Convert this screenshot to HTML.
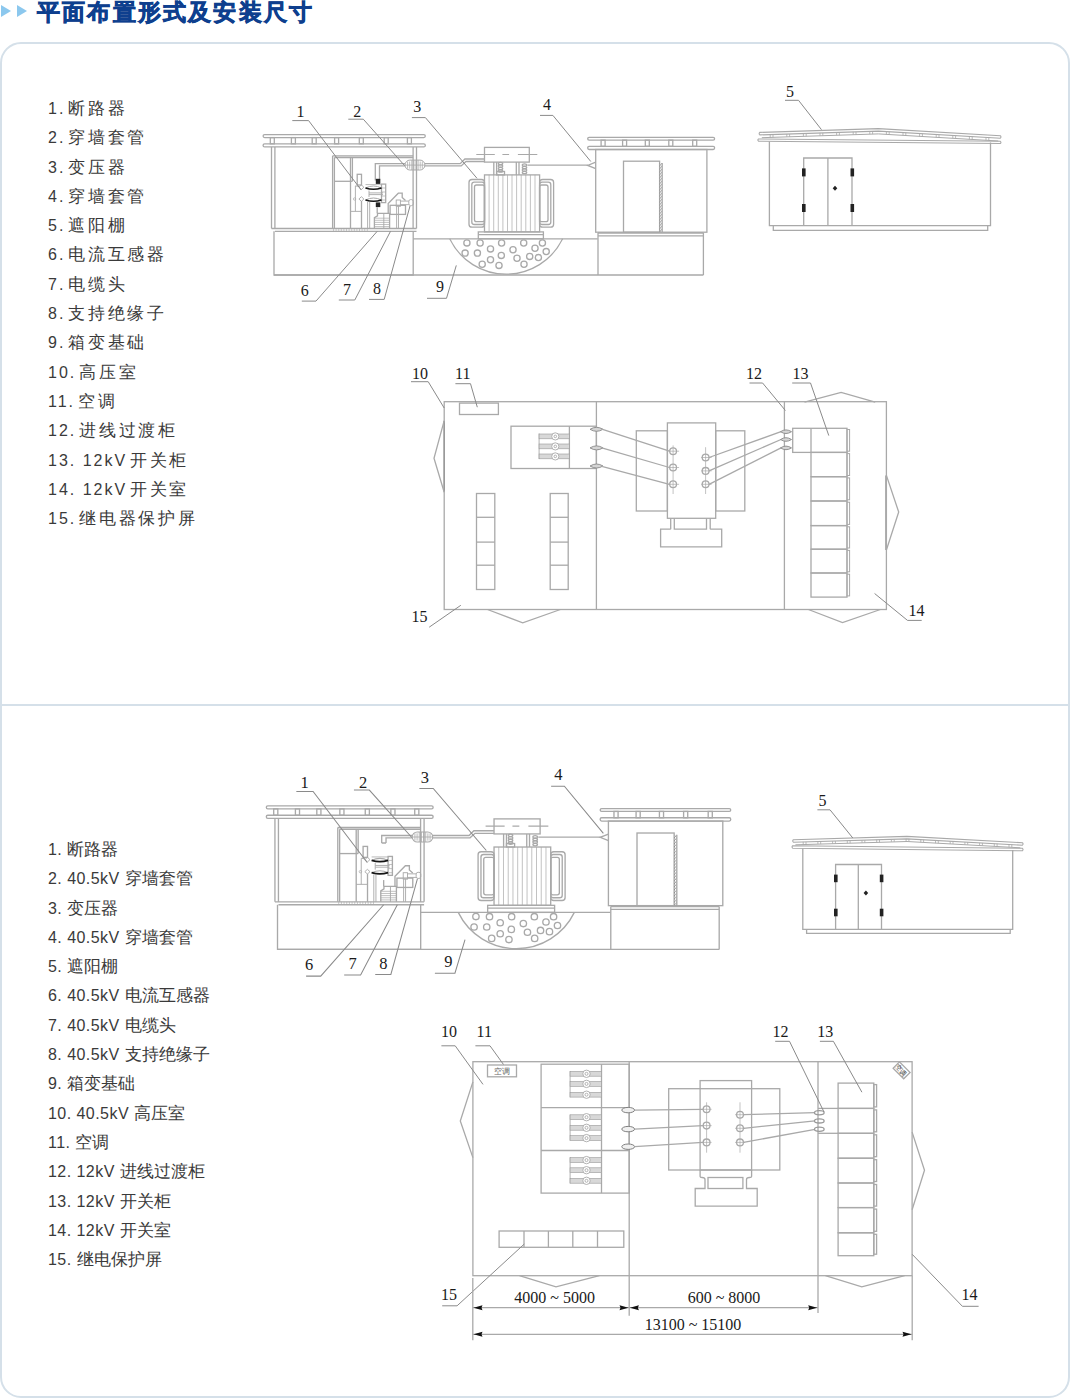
<!DOCTYPE html>
<html><head><meta charset="utf-8">
<style>
html,body{margin:0;padding:0;background:#fff;}
body{width:1070px;height:1398px;position:relative;overflow:hidden;font-family:"Liberation Sans",sans-serif;}
.tri{position:absolute;top:5px;width:0;height:0;border-top:6px solid transparent;border-bottom:6px solid transparent;border-left:10px solid #8cc8ee;}
.title{position:absolute;left:37px;top:-3px;font-size:23px;font-weight:900;color:#0e3f8e;letter-spacing:2.2px;white-space:nowrap;line-height:30px;-webkit-text-stroke:0.7px #0e3f8e;}
.panel{position:absolute;left:0;top:41.5px;width:1066px;height:1352.5px;border:2px solid #d5e0e9;border-radius:21px;}
.div{position:absolute;left:0;top:704px;width:1070px;height:2px;background:#d5e0e9;}
.list{position:absolute;left:48px;font-size:16px;color:#3a3a3a;white-space:nowrap;}
.list div{height:29.3px;line-height:29.3px;}
.l1{top:94px;letter-spacing:2px;}
.l1 .c{letter-spacing:2.75px;margin-left:2.8px;font-size:16.5px;}
.l2{top:835px;letter-spacing:0.45px;}
.l2 .c{font-size:17px;letter-spacing:0;}
svg{position:absolute;left:0;top:0;}
svg text{fill:#1a1a1a;stroke:none;}
</style></head><body>
<div class="tri" style="left:1px"></div>
<div class="tri" style="left:17px"></div>
<div class="title">平面布置形式及安装尺寸</div>
<div class="panel"></div>
<div class="div"></div>
<div class="list l1">
<div>1.<span class="c">断路器</span></div><div>2.<span class="c">穿墙套管</span></div><div>3.<span class="c">变压器</span></div><div>4.<span class="c">穿墙套管</span></div><div>5.<span class="c">遮阳棚</span></div><div>6.<span class="c">电流互感器</span></div><div>7.<span class="c">电缆头</span></div><div>8.<span class="c">支持绝缘子</span></div><div>9.<span class="c">箱变基础</span></div><div>10.<span class="c">高压室</span></div><div>11.<span class="c">空调</span></div><div>12.<span class="c">进线过渡柜</span></div><div>13. 12kV<span class="c">开关柜</span></div><div>14. 12kV<span class="c">开关室</span></div><div>15.<span class="c">继电器保护屏</span></div>
</div>
<div class="list l2">
<div>1. <span class="c">断路器</span></div><div>2. 40.5kV <span class="c">穿墙套管</span></div><div>3. <span class="c">变压器</span></div><div>4. 40.5kV <span class="c">穿墙套管</span></div><div>5. <span class="c">遮阳棚</span></div><div>6. 40.5kV <span class="c">电流互感器</span></div><div>7. 40.5kV <span class="c">电缆头</span></div><div>8. 40.5kV <span class="c">支持绝缘子</span></div><div>9. <span class="c">箱变基础</span></div><div>10. 40.5kV <span class="c">高压室</span></div><div>11. <span class="c">空调</span></div><div>12. 12kV <span class="c">进线过渡柜</span></div><div>13. 12kV <span class="c">开关柜</span></div><div>14. 12kV <span class="c">开关室</span></div><div>15. <span class="c">继电保护屏</span></div>
</div>
<svg width="1070" height="1398" viewBox="0 0 1070 1398" fill="none" stroke="#a9a9a9" stroke-width="1.3" font-family="Liberation Serif,serif">
<defs><pattern id="hatch" width="2.6" height="3" patternUnits="userSpaceOnUse"><path d="M0 3L2.6 0" stroke="#666" stroke-width="0.6"/></pattern></defs>
<g class="txt"></g>
<rect x="263.1" y="134.6" width="162.2" height="3.0" rx="1.5"/>
<rect x="263.1" y="143.8" width="162.2" height="3.1" rx="1.5"/>
<rect x="270.3" y="137.6" width="4.0" height="6.2"/>
<rect x="291.4" y="137.6" width="4.0" height="6.2"/>
<rect x="312.2" y="137.6" width="4.0" height="6.2"/>
<rect x="334.6" y="137.6" width="4.0" height="6.2"/>
<rect x="359.3" y="137.6" width="4.0" height="6.2"/>
<rect x="384.2" y="137.6" width="4.0" height="6.2"/>
<rect x="407.4" y="137.6" width="4.0" height="6.2"/>
<line x1="271.5" y1="146.9" x2="271.5" y2="228.5"/>
<line x1="274.9" y1="146.9" x2="274.9" y2="228.5"/>
<line x1="413.1" y1="146.9" x2="413.1" y2="228.5"/>
<line x1="416.5" y1="146.9" x2="416.5" y2="228.5"/>
<line x1="271.5" y1="228.5" x2="416.5" y2="228.5"/>
<line x1="274.9" y1="231.3" x2="416.5" y2="231.3"/>
<path d="M274 231.3V275H413.2V231.3"/>
<line x1="332.6" y1="155.8" x2="332.6" y2="228.5"/>
<line x1="334.4" y1="157.5" x2="334.4" y2="228.5"/>
<line x1="332.6" y1="155.8" x2="413.1" y2="155.8"/>
<line x1="334.4" y1="157.5" x2="413.1" y2="157.5"/>
<line x1="350.5" y1="157.5" x2="350.5" y2="228.5"/>
<line x1="352.4" y1="157.5" x2="352.4" y2="181.3"/>
<line x1="334.4" y1="181.3" x2="352.4" y2="181.3"/>
<line x1="333.5" y1="228.5" x2="333.5" y2="231.3" stroke-width="0.6"/>
<line x1="336.1" y1="228.5" x2="336.1" y2="231.3" stroke-width="0.6"/>
<line x1="338.7" y1="228.5" x2="338.7" y2="231.3" stroke-width="0.6"/>
<line x1="341.3" y1="228.5" x2="341.3" y2="231.3" stroke-width="0.6"/>
<line x1="343.9" y1="228.5" x2="343.9" y2="231.3" stroke-width="0.6"/>
<line x1="346.5" y1="228.5" x2="346.5" y2="231.3" stroke-width="0.6"/>
<line x1="349.1" y1="228.5" x2="349.1" y2="231.3" stroke-width="0.6"/>
<line x1="351.7" y1="228.5" x2="351.7" y2="231.3" stroke-width="0.6"/>
<line x1="354.3" y1="228.5" x2="354.3" y2="231.3" stroke-width="0.6"/>
<line x1="356.9" y1="228.5" x2="356.9" y2="231.3" stroke-width="0.6"/>
<line x1="359.5" y1="228.5" x2="359.5" y2="231.3" stroke-width="0.6"/>
<line x1="362.1" y1="228.5" x2="362.1" y2="231.3" stroke-width="0.6"/>
<line x1="364.7" y1="228.5" x2="364.7" y2="231.3" stroke-width="0.6"/>
<line x1="367.3" y1="228.5" x2="367.3" y2="231.3" stroke-width="0.6"/>
<path d="M375.3 180.5V163.6H405M379.5 180.5V165.9H405"/>
<rect x="375.8" y="178.8" width="4.5" height="5.1" fill="#222" stroke="none"/>
<rect x="375.8" y="202.4" width="4.5" height="4.7" fill="#222" stroke="none"/>
<rect x="405.0" y="160.1" width="19.9" height="9.9" rx="4.9" stroke-width="1"/>
<line x1="407.6" y1="161.5" x2="407.6" y2="168.7" stroke-width="0.8"/>
<line x1="409.7" y1="161.5" x2="409.7" y2="168.7" stroke-width="0.8"/>
<line x1="411.8" y1="160.2" x2="411.8" y2="170.0" stroke-width="0.8"/>
<line x1="413.9" y1="160.2" x2="413.9" y2="170.0" stroke-width="0.8"/>
<line x1="416.0" y1="160.2" x2="416.0" y2="170.0" stroke-width="0.8"/>
<line x1="418.1" y1="160.2" x2="418.1" y2="170.0" stroke-width="0.8"/>
<line x1="420.2" y1="161.5" x2="420.2" y2="168.7" stroke-width="0.8"/>
<line x1="422.3" y1="161.5" x2="422.3" y2="168.7" stroke-width="0.8"/>
<line x1="405.0" y1="165.1" x2="424.9" y2="165.1" stroke-width="0.8"/>
<path d="M424.9 163.6H460.2L464.9 159H484.5M424.9 165.9H461.2L466 161.5H484.5"/>
<rect x="381.5" y="184.1" width="4.2" height="18.5"/>
<line x1="381.5" y1="188.0" x2="385.7" y2="188.0" stroke-width="0.7"/>
<line x1="381.5" y1="192.0" x2="385.7" y2="192.0" stroke-width="0.7"/>
<line x1="381.5" y1="196.0" x2="385.7" y2="196.0" stroke-width="0.7"/>
<line x1="381.5" y1="200.0" x2="385.7" y2="200.0" stroke-width="0.7"/>
<path d="M365.5 188Q373.5 184 381.5 188M365.5 200Q373.5 196 381.5 200" stroke-width="1"/>
<path d="M365.5 188Q373.5 190.5 381.5 188M365.5 200Q373.5 202.5 381.5 200" stroke="#151515" stroke-width="1.7"/>
<line x1="369.0" y1="192.9" x2="383.0" y2="192.9" stroke-width="0.9"/>
<line x1="369.0" y1="194.6" x2="383.0" y2="194.6" stroke-width="0.9"/>
<line x1="369.0" y1="190.5" x2="369.0" y2="197.0" stroke-width="0.9"/>
<line x1="365.5" y1="184.6" x2="381.5" y2="184.6" stroke-width="0.8"/>
<path d="M358.9 187.2L361.4 184.9L363.9 187.2L361.4 189.5Z" stroke-width="0.9"/>
<path d="M358.9 199L361.4 196.7L363.9 199L361.4 201.3Z" stroke-width="0.9"/>
<rect x="357.2" y="174.3" width="4.3" height="10.7"/>
<line x1="361.5" y1="201.0" x2="361.5" y2="228.5"/>
<path d="M358.9 186.5L355.4 185.9V211.4" stroke-width="0.9"/>
<line x1="350.5" y1="211.4" x2="361.5" y2="211.4" stroke-width="0.9"/>
<circle cx="354.6" cy="199.0" r="1.2" stroke-width="0.7"/>
<line x1="367.6" y1="201.7" x2="367.6" y2="228.5" stroke-width="0.9"/>
<line x1="369.7" y1="201.7" x2="369.7" y2="228.5" stroke-width="0.9"/>
<path d="M374.4 228.5V217.7L377.5 215.8V213.3H389.6V228.5"/>
<line x1="374.4" y1="218.2" x2="389.6" y2="218.2" stroke-width="0.7"/>
<line x1="374.4" y1="220.3" x2="389.6" y2="220.3" stroke-width="0.7"/>
<line x1="374.4" y1="222.4" x2="389.6" y2="222.4" stroke-width="0.7"/>
<line x1="374.4" y1="224.5" x2="389.6" y2="224.5" stroke-width="0.7"/>
<line x1="374.4" y1="226.6" x2="389.6" y2="226.6" stroke-width="0.7"/>
<line x1="383.8" y1="213.3" x2="383.8" y2="228.5" stroke-width="0.9"/>
<line x1="377.2" y1="207.2" x2="377.2" y2="213.3"/>
<path d="M388.2 213.3V203.5L398.3 193.2H402.2V197.4L405.5 200.4"/>
<rect x="390.1" y="205.3" width="15.4" height="9.1"/>
<rect x="396.2" y="200.0" width="4.2" height="6.3" stroke-width="0.9"/>
<line x1="400.4" y1="201.1" x2="408.8" y2="201.1" stroke-width="0.9"/>
<line x1="400.4" y1="204.6" x2="408.8" y2="204.6" stroke-width="0.9"/>
<rect x="408.8" y="199.6" width="4.5" height="6.0" rx="1.8" stroke-width="0.9"/>
<line x1="396.6" y1="206.3" x2="396.6" y2="228.5" stroke-width="0.9"/>
<line x1="398.5" y1="206.3" x2="398.5" y2="228.5" stroke-width="0.9"/>
<rect x="484.5" y="147.4" width="44.8" height="14.7"/>
<path d="M476.3 154.5H494.8M502.4 154.5H509.1M517.9 154.5H537.3" stroke-width="1.1"/>
<line x1="493.8" y1="162.1" x2="493.8" y2="174.9"/>
<line x1="496.6" y1="162.1" x2="496.6" y2="174.9"/>
<line x1="516.3" y1="162.1" x2="516.3" y2="174.9"/>
<line x1="519.0" y1="162.1" x2="519.0" y2="174.9"/>
<ellipse cx="500.5" cy="163.5" rx="2.2" ry="1.2"/>
<ellipse cx="500.5" cy="166.0" rx="2.2" ry="1.2"/>
<ellipse cx="500.5" cy="168.5" rx="2.2" ry="1.2"/>
<ellipse cx="500.5" cy="171.0" rx="2.2" ry="1.2"/>
<ellipse cx="524.5" cy="165.0" rx="2.2" ry="1.2"/>
<ellipse cx="524.5" cy="167.5" rx="2.2" ry="1.2"/>
<ellipse cx="524.5" cy="170.0" rx="2.2" ry="1.2"/>
<ellipse cx="524.5" cy="172.5" rx="2.2" ry="1.2"/>
<rect x="496.6" y="171.5" width="7.9" height="3.4"/>
<rect x="484.5" y="174.9" width="55.1" height="57.0"/>
<line x1="489.1" y1="174.9" x2="489.1" y2="231.9" stroke-width="0.7"/>
<line x1="493.7" y1="174.9" x2="493.7" y2="231.9" stroke-width="0.7"/>
<line x1="498.3" y1="174.9" x2="498.3" y2="231.9" stroke-width="0.7"/>
<line x1="502.9" y1="174.9" x2="502.9" y2="231.9" stroke-width="0.7"/>
<line x1="507.5" y1="174.9" x2="507.5" y2="231.9" stroke-width="0.7"/>
<line x1="512.0" y1="174.9" x2="512.0" y2="231.9" stroke-width="0.7"/>
<line x1="516.6" y1="174.9" x2="516.6" y2="231.9" stroke-width="0.7"/>
<line x1="521.2" y1="174.9" x2="521.2" y2="231.9" stroke-width="0.7"/>
<line x1="525.8" y1="174.9" x2="525.8" y2="231.9" stroke-width="0.7"/>
<line x1="530.4" y1="174.9" x2="530.4" y2="231.9" stroke-width="0.7"/>
<line x1="535.0" y1="174.9" x2="535.0" y2="231.9" stroke-width="0.7"/>
<rect x="469.0" y="179.5" width="15.5" height="47.7" rx="3"/>
<rect x="471.8" y="182.2" width="12.7" height="42.3" rx="2.5"/>
<rect x="474.5" y="185.0" width="10.0" height="36.7" rx="2"/>
<rect x="539.6" y="179.5" width="14.0" height="47.7" rx="3"/>
<rect x="539.6" y="182.2" width="11.2" height="42.3" rx="2.5"/>
<rect x="539.6" y="185.0" width="8.4" height="36.7" rx="2"/>
<rect x="478.3" y="231.9" width="65.1" height="6.9"/>
<line x1="478.3" y1="234.7" x2="543.4" y2="234.7"/>
<line x1="527.5" y1="165.2" x2="588.0" y2="165.2"/>
<path d="M595.7 162.2L587.7 165.4L595.7 168.7"/>
<line x1="413.2" y1="238.8" x2="597.7" y2="238.8"/>
<line x1="274.0" y1="275.0" x2="703.4" y2="275.0"/>
<path d="M449.7 238.8A62.7 62.7 0 0 0 562.6 238.8"/>
<circle cx="466.9" cy="242.9" r="3.1"/>
<circle cx="480.1" cy="243.0" r="3.1"/>
<circle cx="501.6" cy="243.0" r="3.1"/>
<circle cx="523.7" cy="243.0" r="3.1"/>
<circle cx="542.4" cy="243.0" r="3.1"/>
<circle cx="490.5" cy="248.9" r="3.1"/>
<circle cx="513.0" cy="249.7" r="3.1"/>
<circle cx="535.0" cy="248.2" r="3.1"/>
<circle cx="465.1" cy="253.1" r="3.1"/>
<circle cx="477.4" cy="253.1" r="3.1"/>
<circle cx="501.3" cy="255.4" r="3.1"/>
<circle cx="546.2" cy="251.6" r="3.1"/>
<circle cx="517.0" cy="258.2" r="3.1"/>
<circle cx="529.7" cy="256.4" r="3.1"/>
<circle cx="538.4" cy="257.6" r="3.1"/>
<circle cx="490.5" cy="259.7" r="3.1"/>
<circle cx="482.2" cy="264.2" r="3.1"/>
<circle cx="499.0" cy="265.4" r="3.1"/>
<circle cx="524.0" cy="264.2" r="3.1"/>
<rect x="587.7" y="137.3" width="126.9" height="2.8" rx="1.4"/>
<rect x="587.7" y="146.3" width="126.9" height="3.2" rx="1.4"/>
<rect x="601.1" y="140.1" width="4.0" height="6.2"/>
<rect x="622.6" y="140.1" width="4.0" height="6.2"/>
<rect x="645.3" y="140.1" width="4.0" height="6.2"/>
<rect x="668.8" y="140.1" width="4.0" height="6.2"/>
<rect x="692.7" y="140.1" width="4.0" height="6.2"/>
<rect x="595.7" y="149.5" width="111.2" height="82.7"/>
<rect x="623.5" y="161.2" width="36.1" height="71.0"/>
<rect x="659.6" y="163" width="2.6" height="69" fill="url(#hatch)" stroke="none"/>
<line x1="662.2" y1="163.0" x2="662.2" y2="232.0"/>
<line x1="598.0" y1="233.0" x2="703.4" y2="233.0"/>
<line x1="598.0" y1="235.8" x2="703.4" y2="235.8"/>
<line x1="598.0" y1="233.0" x2="598.0" y2="275.0"/>
<line x1="703.4" y1="233.0" x2="703.4" y2="275.0"/>
<text x="300.4" y="116.9" font-size="16" text-anchor="middle">1</text>
<path d="M292.3 120.6H308.6L361.2 190.0" stroke="#8a8a8a" stroke-width="1"/>
<text x="357.2" y="117.1" font-size="16" text-anchor="middle">2</text>
<path d="M348.3 119.2H363.3L404.6 165.6" stroke="#8a8a8a" stroke-width="1"/>
<text x="417.3" y="112.0" font-size="16" text-anchor="middle">3</text>
<path d="M411.9 117.6H425.4L477.0 178.3" stroke="#8a8a8a" stroke-width="1"/>
<text x="547.0" y="109.8" font-size="16" text-anchor="middle">4</text>
<path d="M540.0 115.4H552.9L590.8 161.5" stroke="#8a8a8a" stroke-width="1"/>
<text x="304.8" y="295.5" font-size="16" text-anchor="middle">6</text>
<path d="M301.8 301.1H316.0L377.2 231.3" stroke="#8a8a8a" stroke-width="1"/>
<text x="347.0" y="294.5" font-size="16" text-anchor="middle">7</text>
<path d="M338.8 300.0H354.8L390.5 231.3" stroke="#8a8a8a" stroke-width="1"/>
<text x="376.9" y="294.0" font-size="16" text-anchor="middle">8</text>
<path d="M369.0 299.4H384.2L410.0 206.0" stroke="#8a8a8a" stroke-width="1"/>
<text x="440.0" y="292.0" font-size="16" text-anchor="middle">9</text>
<path d="M427.0 298.3H446.5L456.3 265.4" stroke="#8a8a8a" stroke-width="1"/>
<path d="M759.8 132.4L878.4 128.6L1000.3 135.7Q1001.5999999999999 136.9 1000.3 138.2L878.4 131.1L759.8 134.9Q758.5 133.7 759.8 132.4Z" stroke-width="1.1"/>
<path d="M761.8 137.7L878.4 133.9L998.3 141.0" stroke-width="1"/>
<line x1="770.2" y1="134.5" x2="770.2" y2="137.3" stroke-width="0.8"/>
<line x1="773.0" y1="134.5" x2="773.0" y2="137.3" stroke-width="0.8"/>
<line x1="786.8" y1="134.0" x2="786.8" y2="136.8" stroke-width="0.8"/>
<line x1="789.6" y1="134.0" x2="789.6" y2="136.8" stroke-width="0.8"/>
<line x1="803.4" y1="133.5" x2="803.4" y2="136.3" stroke-width="0.8"/>
<line x1="806.2" y1="133.5" x2="806.2" y2="136.3" stroke-width="0.8"/>
<line x1="820.0" y1="132.9" x2="820.0" y2="135.7" stroke-width="0.8"/>
<line x1="822.8" y1="132.9" x2="822.8" y2="135.7" stroke-width="0.8"/>
<line x1="836.6" y1="132.4" x2="836.6" y2="135.2" stroke-width="0.8"/>
<line x1="839.4" y1="132.4" x2="839.4" y2="135.2" stroke-width="0.8"/>
<line x1="853.2" y1="131.9" x2="853.2" y2="134.7" stroke-width="0.8"/>
<line x1="856.0" y1="131.9" x2="856.0" y2="134.7" stroke-width="0.8"/>
<line x1="869.8" y1="131.3" x2="869.8" y2="134.1" stroke-width="0.8"/>
<line x1="872.6" y1="131.3" x2="872.6" y2="134.1" stroke-width="0.8"/>
<line x1="886.4" y1="131.6" x2="886.4" y2="134.4" stroke-width="0.8"/>
<line x1="889.2" y1="131.6" x2="889.2" y2="134.4" stroke-width="0.8"/>
<line x1="903.0" y1="132.6" x2="903.0" y2="135.4" stroke-width="0.8"/>
<line x1="905.8" y1="132.6" x2="905.8" y2="135.4" stroke-width="0.8"/>
<line x1="919.6" y1="133.6" x2="919.6" y2="136.4" stroke-width="0.8"/>
<line x1="922.4" y1="133.6" x2="922.4" y2="136.4" stroke-width="0.8"/>
<line x1="936.2" y1="134.5" x2="936.2" y2="137.3" stroke-width="0.8"/>
<line x1="939.0" y1="134.5" x2="939.0" y2="137.3" stroke-width="0.8"/>
<line x1="952.8" y1="135.5" x2="952.8" y2="138.3" stroke-width="0.8"/>
<line x1="955.6" y1="135.5" x2="955.6" y2="138.3" stroke-width="0.8"/>
<line x1="969.4" y1="136.5" x2="969.4" y2="139.3" stroke-width="0.8"/>
<line x1="972.2" y1="136.5" x2="972.2" y2="139.3" stroke-width="0.8"/>
<line x1="986.0" y1="137.4" x2="986.0" y2="140.2" stroke-width="0.8"/>
<line x1="988.8" y1="137.4" x2="988.8" y2="140.2" stroke-width="0.8"/>
<path d="M758.5 139L1000.3 141.3Q1001.5999999999999 142.4 1000.3 143.5L758.5 141.2Q757.2 140.1 758.5 139Z" stroke-width="1.1"/>
<path d="M769.4 141.5V225.6H990.5V142.5"/>
<path d="M773.3 225.6V230.4H987.7V225.6"/>
<path d="M803.7 225.6V158H852V225.6M827.9 158V225.6"/>
<rect x="802.0" y="168.4" width="3.6" height="8.0" fill="#222" stroke="none"/>
<rect x="802.0" y="204.0" width="3.6" height="8.0" fill="#222" stroke="none"/>
<rect x="850.5" y="168.4" width="3.6" height="8.0" fill="#222" stroke="none"/>
<rect x="850.5" y="204.0" width="3.6" height="8.0" fill="#222" stroke="none"/>
<path d="M835 185.8L837.3 188.3L835 190.8L832.7 188.3Z" fill="#222" stroke="none"/>
<text x="790.0" y="96.5" font-size="16" text-anchor="middle">5</text>
<path d="M785.0 100.3H798.5L821.5 129.7" stroke="#8a8a8a" stroke-width="1"/>
<rect x="444.2" y="401.7" width="442.2" height="207.8"/>
<line x1="596.4" y1="401.7" x2="596.4" y2="609.5"/>
<line x1="784.4" y1="401.7" x2="784.4" y2="609.5"/>
<line x1="444.2" y1="421.0" x2="444.2" y2="491.4" stroke-width="1.5" stroke="#999"/>
<path d="M444.2 420.6L434 458.3L444.2 492.3"/>
<path d="M487.5 609.5L522.7 622.8L560.4 609.5"/>
<path d="M804.5 402.1L841.1 392.4L875.2 402.1"/>
<path d="M886.4 475.4L898.7 512L886.4 550"/>
<line x1="885.9" y1="475.4" x2="885.9" y2="550.0" stroke-width="1.6"/>
<path d="M808.4 609.5L842.5 622.5L880.4 609.5"/>
<rect x="459.5" y="403.1" width="38.9" height="11.4"/>
<rect x="476.5" y="493.5" width="18.3" height="96.0"/>
<line x1="476.5" y1="517.3" x2="494.8" y2="517.3"/>
<line x1="476.5" y1="542.1" x2="494.8" y2="542.1"/>
<line x1="476.5" y1="565.2" x2="494.8" y2="565.2"/>
<rect x="550.2" y="493.5" width="18.0" height="96.0"/>
<line x1="550.2" y1="517.3" x2="568.2" y2="517.3"/>
<line x1="550.2" y1="542.1" x2="568.2" y2="542.1"/>
<line x1="550.2" y1="565.2" x2="568.2" y2="565.2"/>
<rect x="511.0" y="426.2" width="85.4" height="42.3"/>
<line x1="569.4" y1="426.2" x2="569.4" y2="468.5"/>
<line x1="539.1" y1="433.5" x2="539.1" y2="459.0" stroke-width="0.9"/>
<rect x="539.1" y="434.0" width="30.3" height="4.8" fill="#d8d8d8" stroke="#999" stroke-width="0.6"/>
<circle cx="555.3" cy="436.4" r="3.6" fill="#fff" stroke-width="0.9"/>
<circle cx="555.3" cy="436.4" r="1.3" stroke-width="0.9"/>
<rect x="539.1" y="444.0" width="30.3" height="4.8" fill="#d8d8d8" stroke="#999" stroke-width="0.6"/>
<circle cx="555.3" cy="446.4" r="3.6" fill="#fff" stroke-width="0.9"/>
<circle cx="555.3" cy="446.4" r="1.3" stroke-width="0.9"/>
<rect x="539.1" y="454.0" width="30.3" height="4.8" fill="#d8d8d8" stroke="#999" stroke-width="0.6"/>
<circle cx="555.3" cy="456.4" r="3.6" fill="#fff" stroke-width="0.9"/>
<circle cx="555.3" cy="456.4" r="1.3" stroke-width="0.9"/>
<path d="M590 429.3Q596.5 425.3 603 429.3Q596.5 433.3 590 429.3Z" fill="#d5d5d5" stroke="#888" stroke-width="0.9"/>
<path d="M590 447.9Q596.5 443.9 603 447.9Q596.5 451.9 590 447.9Z" fill="#d5d5d5" stroke="#888" stroke-width="0.9"/>
<path d="M590 466Q596.5 462.0 603 466Q596.5 470.0 590 466Z" fill="#d5d5d5" stroke="#888" stroke-width="0.9"/>
<rect x="636.3" y="430.8" width="31.1" height="80.2"/>
<rect x="715.7" y="430.8" width="29.1" height="80.2"/>
<rect x="667.4" y="422.9" width="48.3" height="95.4"/>
<path d="M670.7 518.3V529.2M674.3 518.3V529.2H706.5V518.3M710.2 518.3V529.2"/>
<path d="M670.7 529.2H660.6V546.8H721.7V529.2H710.2"/>
<line x1="673.1" y1="445.4" x2="673.1" y2="494.0" stroke-width="0.7"/>
<circle cx="673.1" cy="451.2" r="3.4"/>
<line x1="668.6" y1="451.2" x2="679.1" y2="451.2" stroke-width="0.7"/>
<circle cx="673.1" cy="467.5" r="3.4"/>
<line x1="668.6" y1="467.5" x2="679.1" y2="467.5" stroke-width="0.7"/>
<circle cx="673.1" cy="484.3" r="3.4"/>
<line x1="668.6" y1="484.3" x2="679.1" y2="484.3" stroke-width="0.7"/>
<line x1="705.6" y1="447.2" x2="705.6" y2="494.0" stroke-width="0.7"/>
<circle cx="705.6" cy="457.5" r="3.4"/>
<line x1="701.1" y1="457.5" x2="711.6" y2="457.5" stroke-width="0.7"/>
<circle cx="705.6" cy="470.9" r="3.4"/>
<line x1="701.1" y1="470.9" x2="711.6" y2="470.9" stroke-width="0.7"/>
<circle cx="705.6" cy="484.3" r="3.4"/>
<line x1="701.1" y1="484.3" x2="711.6" y2="484.3" stroke-width="0.7"/>
<line x1="601.8" y1="429.1" x2="669.5" y2="451.2"/>
<line x1="601.8" y1="447.8" x2="669.5" y2="467.5"/>
<line x1="601.8" y1="466.3" x2="669.5" y2="484.3"/>
<line x1="709.0" y1="457.5" x2="781.0" y2="431.7"/>
<line x1="709.0" y1="470.9" x2="781.0" y2="439.5"/>
<line x1="709.0" y1="484.3" x2="781.0" y2="447.9"/>
<path d="M780.5 431.7Q786 428.1 791.5 431.7Q786 435.3 780.5 431.7Z" fill="#d5d5d5" stroke="#888" stroke-width="0.9"/>
<path d="M780.5 439.5Q786 435.9 791.5 439.5Q786 443.1 780.5 439.5Z" fill="#d5d5d5" stroke="#888" stroke-width="0.9"/>
<path d="M780.5 447.9Q786 444.3 791.5 447.9Q786 451.5 780.5 447.9Z" fill="#d5d5d5" stroke="#888" stroke-width="0.9"/>
<rect x="792.7" y="428.3" width="54.3" height="24.1"/>
<line x1="811.0" y1="428.3" x2="811.0" y2="452.4"/>
<rect x="811.0" y="452.4" width="36.0" height="24.3"/>
<rect x="811.0" y="476.7" width="36.0" height="24.3"/>
<rect x="811.0" y="501.0" width="36.0" height="24.6"/>
<rect x="811.0" y="525.6" width="36.0" height="23.6"/>
<rect x="811.0" y="549.2" width="36.0" height="23.8"/>
<rect x="811.0" y="573.0" width="36.0" height="24.1"/>
<rect x="847.0" y="429.5" width="2.6" height="21.7" stroke-width="1"/>
<rect x="847.0" y="453.6" width="2.6" height="21.9" stroke-width="1"/>
<rect x="847.0" y="477.9" width="2.6" height="21.9" stroke-width="1"/>
<rect x="847.0" y="502.2" width="2.6" height="22.2" stroke-width="1"/>
<rect x="847.0" y="526.8" width="2.6" height="21.2" stroke-width="1"/>
<rect x="847.0" y="550.4" width="2.6" height="21.4" stroke-width="1"/>
<rect x="847.0" y="574.2" width="2.6" height="21.7" stroke-width="1"/>
<text x="420.0" y="378.7" font-size="16" text-anchor="middle">10</text>
<path d="M411.0 381.7H428.2L444.2 408.0" stroke="#8a8a8a" stroke-width="1"/>
<text x="462.7" y="378.7" font-size="16" text-anchor="middle">11</text>
<path d="M455.4 383.7H470.5L477.3 407.2" stroke="#8a8a8a" stroke-width="1"/>
<text x="419.4" y="621.7" font-size="16" text-anchor="middle">15</text>
<path d="M429.2 627.2L460.8 605.3" stroke="#8a8a8a" stroke-width="1"/>
<text x="754.0" y="378.8" font-size="16" text-anchor="middle">12</text>
<path d="M749.5 383.0H762.6L785.4 410.5" stroke="#8a8a8a" stroke-width="1"/>
<text x="800.6" y="378.8" font-size="16" text-anchor="middle">13</text>
<path d="M792.2 383.0H810.5L828.8 435.6" stroke="#8a8a8a" stroke-width="1"/>
<text x="916.6" y="615.5" font-size="16" text-anchor="middle">14</text>
<path d="M874.6 593.5L907.5 620.4H921.7" stroke="#8a8a8a" stroke-width="1"/>
<g transform="translate(266.3 805.8) scale(1.0286 1.023) translate(-263.1 -134.6)">
<rect x="263.1" y="134.6" width="162.2" height="3.0" rx="1.5"/>
<rect x="263.1" y="143.8" width="162.2" height="3.1" rx="1.5"/>
<rect x="270.3" y="137.6" width="4.0" height="6.2"/>
<rect x="291.4" y="137.6" width="4.0" height="6.2"/>
<rect x="312.2" y="137.6" width="4.0" height="6.2"/>
<rect x="334.6" y="137.6" width="4.0" height="6.2"/>
<rect x="359.3" y="137.6" width="4.0" height="6.2"/>
<rect x="384.2" y="137.6" width="4.0" height="6.2"/>
<rect x="407.4" y="137.6" width="4.0" height="6.2"/>
<line x1="271.5" y1="146.9" x2="271.5" y2="228.5"/>
<line x1="274.9" y1="146.9" x2="274.9" y2="228.5"/>
<line x1="413.1" y1="146.9" x2="413.1" y2="228.5"/>
<line x1="416.5" y1="146.9" x2="416.5" y2="228.5"/>
<line x1="271.5" y1="228.5" x2="416.5" y2="228.5"/>
<line x1="274.9" y1="231.3" x2="416.5" y2="231.3"/>
<path d="M274 231.3V275H413.2V231.3"/>
<line x1="332.6" y1="155.8" x2="332.6" y2="228.5"/>
<line x1="334.4" y1="157.5" x2="334.4" y2="228.5"/>
<line x1="332.6" y1="155.8" x2="413.1" y2="155.8"/>
<line x1="334.4" y1="157.5" x2="413.1" y2="157.5"/>
<line x1="350.5" y1="157.5" x2="350.5" y2="228.5"/>
<line x1="352.4" y1="157.5" x2="352.4" y2="181.3"/>
<line x1="334.4" y1="181.3" x2="352.4" y2="181.3"/>
<line x1="333.5" y1="228.5" x2="333.5" y2="231.3" stroke-width="0.6"/>
<line x1="336.1" y1="228.5" x2="336.1" y2="231.3" stroke-width="0.6"/>
<line x1="338.7" y1="228.5" x2="338.7" y2="231.3" stroke-width="0.6"/>
<line x1="341.3" y1="228.5" x2="341.3" y2="231.3" stroke-width="0.6"/>
<line x1="343.9" y1="228.5" x2="343.9" y2="231.3" stroke-width="0.6"/>
<line x1="346.5" y1="228.5" x2="346.5" y2="231.3" stroke-width="0.6"/>
<line x1="349.1" y1="228.5" x2="349.1" y2="231.3" stroke-width="0.6"/>
<line x1="351.7" y1="228.5" x2="351.7" y2="231.3" stroke-width="0.6"/>
<line x1="354.3" y1="228.5" x2="354.3" y2="231.3" stroke-width="0.6"/>
<line x1="356.9" y1="228.5" x2="356.9" y2="231.3" stroke-width="0.6"/>
<line x1="359.5" y1="228.5" x2="359.5" y2="231.3" stroke-width="0.6"/>
<line x1="362.1" y1="228.5" x2="362.1" y2="231.3" stroke-width="0.6"/>
<line x1="364.7" y1="228.5" x2="364.7" y2="231.3" stroke-width="0.6"/>
<line x1="367.3" y1="228.5" x2="367.3" y2="231.3" stroke-width="0.6"/>
<path d="M375.3 171V163.6H405M379.5 171V165.9H405M375.3 171H379.5"/>
<rect x="405.0" y="160.1" width="19.9" height="9.9" rx="4.9" stroke-width="1"/>
<line x1="407.6" y1="161.5" x2="407.6" y2="168.7" stroke-width="0.8"/>
<line x1="409.7" y1="161.5" x2="409.7" y2="168.7" stroke-width="0.8"/>
<line x1="411.8" y1="160.2" x2="411.8" y2="170.0" stroke-width="0.8"/>
<line x1="413.9" y1="160.2" x2="413.9" y2="170.0" stroke-width="0.8"/>
<line x1="416.0" y1="160.2" x2="416.0" y2="170.0" stroke-width="0.8"/>
<line x1="418.1" y1="160.2" x2="418.1" y2="170.0" stroke-width="0.8"/>
<line x1="420.2" y1="161.5" x2="420.2" y2="168.7" stroke-width="0.8"/>
<line x1="422.3" y1="161.5" x2="422.3" y2="168.7" stroke-width="0.8"/>
<line x1="405.0" y1="165.1" x2="424.9" y2="165.1" stroke-width="0.8"/>
<path d="M424.9 163.6H460.2L464.9 159H484.5M424.9 165.9H461.2L466 161.5H484.5"/>
<rect x="381.5" y="184.1" width="4.2" height="18.5"/>
<line x1="381.5" y1="188.0" x2="385.7" y2="188.0" stroke-width="0.7"/>
<line x1="381.5" y1="192.0" x2="385.7" y2="192.0" stroke-width="0.7"/>
<line x1="381.5" y1="196.0" x2="385.7" y2="196.0" stroke-width="0.7"/>
<line x1="381.5" y1="200.0" x2="385.7" y2="200.0" stroke-width="0.7"/>
<path d="M365.5 188Q373.5 184 381.5 188M365.5 200Q373.5 196 381.5 200" stroke-width="1"/>
<path d="M365.5 188Q373.5 190.5 381.5 188M365.5 200Q373.5 202.5 381.5 200" stroke="#151515" stroke-width="1.7"/>
<line x1="369.0" y1="192.9" x2="383.0" y2="192.9" stroke-width="0.9"/>
<line x1="369.0" y1="194.6" x2="383.0" y2="194.6" stroke-width="0.9"/>
<line x1="369.0" y1="190.5" x2="369.0" y2="197.0" stroke-width="0.9"/>
<line x1="365.5" y1="184.6" x2="381.5" y2="184.6" stroke-width="0.8"/>
<path d="M358.9 187.2L361.4 184.9L363.9 187.2L361.4 189.5Z" stroke-width="0.9"/>
<path d="M358.9 199L361.4 196.7L363.9 199L361.4 201.3Z" stroke-width="0.9"/>
<rect x="357.2" y="174.3" width="4.3" height="10.7"/>
<line x1="361.5" y1="201.0" x2="361.5" y2="228.5"/>
<path d="M358.9 186.5L355.4 185.9V211.4" stroke-width="0.9"/>
<line x1="350.5" y1="211.4" x2="361.5" y2="211.4" stroke-width="0.9"/>
<circle cx="354.6" cy="199.0" r="1.2" stroke-width="0.7"/>
<line x1="367.6" y1="201.7" x2="367.6" y2="228.5" stroke-width="0.9"/>
<line x1="369.7" y1="201.7" x2="369.7" y2="228.5" stroke-width="0.9"/>
<path d="M374.4 228.5V217.7L377.5 215.8V213.3H389.6V228.5"/>
<line x1="374.4" y1="218.2" x2="389.6" y2="218.2" stroke-width="0.7"/>
<line x1="374.4" y1="220.3" x2="389.6" y2="220.3" stroke-width="0.7"/>
<line x1="374.4" y1="222.4" x2="389.6" y2="222.4" stroke-width="0.7"/>
<line x1="374.4" y1="224.5" x2="389.6" y2="224.5" stroke-width="0.7"/>
<line x1="374.4" y1="226.6" x2="389.6" y2="226.6" stroke-width="0.7"/>
<line x1="383.8" y1="213.3" x2="383.8" y2="228.5" stroke-width="0.9"/>
<line x1="377.2" y1="207.2" x2="377.2" y2="213.3"/>
<path d="M388.2 213.3V203.5L398.3 193.2H402.2V197.4L405.5 200.4"/>
<rect x="390.1" y="205.3" width="15.4" height="9.1"/>
<rect x="396.2" y="200.0" width="4.2" height="6.3" stroke-width="0.9"/>
<line x1="400.4" y1="201.1" x2="408.8" y2="201.1" stroke-width="0.9"/>
<line x1="400.4" y1="204.6" x2="408.8" y2="204.6" stroke-width="0.9"/>
<rect x="408.8" y="199.6" width="4.5" height="6.0" rx="1.8" stroke-width="0.9"/>
<line x1="396.6" y1="206.3" x2="396.6" y2="228.5" stroke-width="0.9"/>
<line x1="398.5" y1="206.3" x2="398.5" y2="228.5" stroke-width="0.9"/>
<rect x="484.5" y="147.4" width="44.8" height="14.7"/>
<path d="M476.3 154.5H494.8M502.4 154.5H509.1M517.9 154.5H537.3" stroke-width="1.1"/>
<line x1="493.8" y1="162.1" x2="493.8" y2="174.9"/>
<line x1="496.6" y1="162.1" x2="496.6" y2="174.9"/>
<line x1="516.3" y1="162.1" x2="516.3" y2="174.9"/>
<line x1="519.0" y1="162.1" x2="519.0" y2="174.9"/>
<ellipse cx="500.5" cy="163.5" rx="2.2" ry="1.2"/>
<ellipse cx="500.5" cy="166.0" rx="2.2" ry="1.2"/>
<ellipse cx="500.5" cy="168.5" rx="2.2" ry="1.2"/>
<ellipse cx="500.5" cy="171.0" rx="2.2" ry="1.2"/>
<ellipse cx="524.5" cy="165.0" rx="2.2" ry="1.2"/>
<ellipse cx="524.5" cy="167.5" rx="2.2" ry="1.2"/>
<ellipse cx="524.5" cy="170.0" rx="2.2" ry="1.2"/>
<ellipse cx="524.5" cy="172.5" rx="2.2" ry="1.2"/>
<rect x="496.6" y="171.5" width="7.9" height="3.4"/>
<rect x="484.5" y="174.9" width="55.1" height="57.0"/>
<line x1="489.1" y1="174.9" x2="489.1" y2="231.9" stroke-width="0.7"/>
<line x1="493.7" y1="174.9" x2="493.7" y2="231.9" stroke-width="0.7"/>
<line x1="498.3" y1="174.9" x2="498.3" y2="231.9" stroke-width="0.7"/>
<line x1="502.9" y1="174.9" x2="502.9" y2="231.9" stroke-width="0.7"/>
<line x1="507.5" y1="174.9" x2="507.5" y2="231.9" stroke-width="0.7"/>
<line x1="512.0" y1="174.9" x2="512.0" y2="231.9" stroke-width="0.7"/>
<line x1="516.6" y1="174.9" x2="516.6" y2="231.9" stroke-width="0.7"/>
<line x1="521.2" y1="174.9" x2="521.2" y2="231.9" stroke-width="0.7"/>
<line x1="525.8" y1="174.9" x2="525.8" y2="231.9" stroke-width="0.7"/>
<line x1="530.4" y1="174.9" x2="530.4" y2="231.9" stroke-width="0.7"/>
<line x1="535.0" y1="174.9" x2="535.0" y2="231.9" stroke-width="0.7"/>
<rect x="469.0" y="179.5" width="15.5" height="47.7" rx="3"/>
<rect x="471.8" y="182.2" width="12.7" height="42.3" rx="2.5"/>
<rect x="474.5" y="185.0" width="10.0" height="36.7" rx="2"/>
<rect x="539.6" y="179.5" width="14.0" height="47.7" rx="3"/>
<rect x="539.6" y="182.2" width="11.2" height="42.3" rx="2.5"/>
<rect x="539.6" y="185.0" width="8.4" height="36.7" rx="2"/>
<rect x="478.3" y="231.9" width="65.1" height="6.9"/>
<line x1="478.3" y1="234.7" x2="543.4" y2="234.7"/>
<line x1="527.5" y1="165.2" x2="588.0" y2="165.2"/>
<path d="M595.7 162.2L587.7 165.4L595.7 168.7"/>
<line x1="413.2" y1="238.8" x2="597.7" y2="238.8"/>
<line x1="274.0" y1="275.0" x2="703.4" y2="275.0"/>
<path d="M449.7 238.8A62.7 62.7 0 0 0 562.6 238.8"/>
<circle cx="466.9" cy="242.9" r="3.1"/>
<circle cx="480.1" cy="243.0" r="3.1"/>
<circle cx="501.6" cy="243.0" r="3.1"/>
<circle cx="523.7" cy="243.0" r="3.1"/>
<circle cx="542.4" cy="243.0" r="3.1"/>
<circle cx="490.5" cy="248.9" r="3.1"/>
<circle cx="513.0" cy="249.7" r="3.1"/>
<circle cx="535.0" cy="248.2" r="3.1"/>
<circle cx="465.1" cy="253.1" r="3.1"/>
<circle cx="477.4" cy="253.1" r="3.1"/>
<circle cx="501.3" cy="255.4" r="3.1"/>
<circle cx="546.2" cy="251.6" r="3.1"/>
<circle cx="517.0" cy="258.2" r="3.1"/>
<circle cx="529.7" cy="256.4" r="3.1"/>
<circle cx="538.4" cy="257.6" r="3.1"/>
<circle cx="490.5" cy="259.7" r="3.1"/>
<circle cx="482.2" cy="264.2" r="3.1"/>
<circle cx="499.0" cy="265.4" r="3.1"/>
<circle cx="524.0" cy="264.2" r="3.1"/>
<rect x="587.7" y="137.3" width="126.9" height="2.8" rx="1.4"/>
<rect x="587.7" y="146.3" width="126.9" height="3.2" rx="1.4"/>
<rect x="601.1" y="140.1" width="4.0" height="6.2"/>
<rect x="622.6" y="140.1" width="4.0" height="6.2"/>
<rect x="645.3" y="140.1" width="4.0" height="6.2"/>
<rect x="668.8" y="140.1" width="4.0" height="6.2"/>
<rect x="692.7" y="140.1" width="4.0" height="6.2"/>
<rect x="595.7" y="149.5" width="111.2" height="82.7"/>
<rect x="623.5" y="161.2" width="36.1" height="71.0"/>
<rect x="659.6" y="163" width="2.6" height="69" fill="url(#hatch)" stroke="none"/>
<line x1="662.2" y1="163.0" x2="662.2" y2="232.0"/>
<line x1="598.0" y1="233.0" x2="703.4" y2="233.0"/>
<line x1="598.0" y1="235.8" x2="703.4" y2="235.8"/>
<line x1="598.0" y1="233.0" x2="598.0" y2="275.0"/>
<line x1="703.4" y1="233.0" x2="703.4" y2="275.0"/>
<text x="300.4" y="116.9" font-size="16" text-anchor="middle">1</text>
<path d="M292.3 120.6H308.6L361.2 190.0" stroke="#8a8a8a" stroke-width="1"/>
<text x="357.2" y="117.1" font-size="16" text-anchor="middle">2</text>
<path d="M348.3 119.2H363.3L404.6 165.6" stroke="#8a8a8a" stroke-width="1"/>
<text x="417.3" y="112.0" font-size="16" text-anchor="middle">3</text>
<path d="M411.9 117.6H425.4L477.0 178.3" stroke="#8a8a8a" stroke-width="1"/>
<text x="547.0" y="109.8" font-size="16" text-anchor="middle">4</text>
<path d="M540.0 115.4H552.9L590.8 161.5" stroke="#8a8a8a" stroke-width="1"/>
<text x="304.8" y="295.5" font-size="16" text-anchor="middle">6</text>
<path d="M301.8 301.1H316.0L377.2 231.3" stroke="#8a8a8a" stroke-width="1"/>
<text x="347.0" y="294.5" font-size="16" text-anchor="middle">7</text>
<path d="M338.8 300.0H354.8L390.5 231.3" stroke="#8a8a8a" stroke-width="1"/>
<text x="376.9" y="294.0" font-size="16" text-anchor="middle">8</text>
<path d="M369.0 299.4H384.2L410.0 206.0" stroke="#8a8a8a" stroke-width="1"/>
<text x="440.0" y="292.0" font-size="16" text-anchor="middle">9</text>
<path d="M427.0 298.3H446.5L456.3 265.4" stroke="#8a8a8a" stroke-width="1"/>
</g>
<path d="M793.4 839.7L907 836.4L1022.4 842.7Q1023.6999999999999 844.0 1022.4 845.2L907 838.9L793.4 842.2Q792.1 841.0 793.4 839.7Z" stroke-width="1.1"/>
<path d="M795.4 844.8L907 841.5L1020.4 847.8" stroke-width="1"/>
<line x1="803.2" y1="841.9" x2="803.2" y2="844.5" stroke-width="0.8"/>
<line x1="806.0" y1="841.9" x2="806.0" y2="844.5" stroke-width="0.8"/>
<line x1="817.9" y1="841.4" x2="817.9" y2="844.0" stroke-width="0.8"/>
<line x1="820.7" y1="841.4" x2="820.7" y2="844.0" stroke-width="0.8"/>
<line x1="832.6" y1="841.0" x2="832.6" y2="843.6" stroke-width="0.8"/>
<line x1="835.4" y1="841.0" x2="835.4" y2="843.6" stroke-width="0.8"/>
<line x1="847.3" y1="840.6" x2="847.3" y2="843.2" stroke-width="0.8"/>
<line x1="850.1" y1="840.6" x2="850.1" y2="843.2" stroke-width="0.8"/>
<line x1="862.0" y1="840.2" x2="862.0" y2="842.8" stroke-width="0.8"/>
<line x1="864.8" y1="840.2" x2="864.8" y2="842.8" stroke-width="0.8"/>
<line x1="876.7" y1="839.7" x2="876.7" y2="842.3" stroke-width="0.8"/>
<line x1="879.5" y1="839.7" x2="879.5" y2="842.3" stroke-width="0.8"/>
<line x1="891.4" y1="839.3" x2="891.4" y2="841.9" stroke-width="0.8"/>
<line x1="894.2" y1="839.3" x2="894.2" y2="841.9" stroke-width="0.8"/>
<line x1="906.1" y1="838.9" x2="906.1" y2="841.5" stroke-width="0.8"/>
<line x1="908.9" y1="838.9" x2="908.9" y2="841.5" stroke-width="0.8"/>
<line x1="920.8" y1="839.7" x2="920.8" y2="842.3" stroke-width="0.8"/>
<line x1="923.6" y1="839.7" x2="923.6" y2="842.3" stroke-width="0.8"/>
<line x1="935.5" y1="840.5" x2="935.5" y2="843.1" stroke-width="0.8"/>
<line x1="938.3" y1="840.5" x2="938.3" y2="843.1" stroke-width="0.8"/>
<line x1="950.2" y1="841.3" x2="950.2" y2="843.9" stroke-width="0.8"/>
<line x1="953.0" y1="841.3" x2="953.0" y2="843.9" stroke-width="0.8"/>
<line x1="964.9" y1="842.1" x2="964.9" y2="844.7" stroke-width="0.8"/>
<line x1="967.7" y1="842.1" x2="967.7" y2="844.7" stroke-width="0.8"/>
<line x1="979.6" y1="842.9" x2="979.6" y2="845.5" stroke-width="0.8"/>
<line x1="982.4" y1="842.9" x2="982.4" y2="845.5" stroke-width="0.8"/>
<line x1="994.3" y1="843.7" x2="994.3" y2="846.3" stroke-width="0.8"/>
<line x1="997.1" y1="843.7" x2="997.1" y2="846.3" stroke-width="0.8"/>
<line x1="1009.0" y1="844.5" x2="1009.0" y2="847.1" stroke-width="0.8"/>
<line x1="1011.8" y1="844.5" x2="1011.8" y2="847.1" stroke-width="0.8"/>
<path d="M792.7 845.7L1022.4 848.3Q1023.6999999999999 849.5 1022.4 850.8L792.7 848.2Q791.4000000000001 847.0 792.7 845.7Z" stroke-width="1.1"/>
<path d="M802.8 848.5V929.4H1012.7V850"/>
<path d="M806.6 929.4V933.4H1010.2V929.4"/>
<path d="M835.6 929.4V864.5H881.5V929.4M858.3 864.5V929.4"/>
<rect x="834.0" y="874.6" width="3.6" height="7.6" fill="#222" stroke="none"/>
<rect x="834.0" y="908.7" width="3.6" height="7.6" fill="#222" stroke="none"/>
<rect x="879.8" y="874.6" width="3.6" height="7.6" fill="#222" stroke="none"/>
<rect x="879.8" y="908.7" width="3.6" height="7.6" fill="#222" stroke="none"/>
<path d="M865.9 890.5L868.2 893L865.9 895.5L863.6 893Z" fill="#222" stroke="none"/>
<text x="822.5" y="805.7" font-size="16" text-anchor="middle">5</text>
<path d="M817.4 809.8H830.0L852.8 838.0" stroke="#8a8a8a" stroke-width="1"/>
<rect x="472.9" y="1061.7" width="439.2" height="214.0"/>
<line x1="629.2" y1="1061.7" x2="629.2" y2="1315.8"/>
<line x1="818.0" y1="1061.7" x2="818.0" y2="1313.1"/>
<path d="M472.9 1081.9L460.3 1121L472.9 1157.6"/>
<path d="M912.1 1132.1L924.5 1170.2L912.1 1209.7"/>
<path d="M519.4 1275.7L556 1286.8L599.4 1275.7"/>
<path d="M825.4 1275.7L861.8 1286.9L904.7 1275.7"/>
<rect x="487.5" y="1065.0" width="29.0" height="11.8"/>
<text x="502.0" y="1074.0" font-size="8" text-anchor="middle" font-family="Liberation Serif,serif" style="fill:#666">空调</text>
<rect x="541.1" y="1064.2" width="88.1" height="128.9"/>
<line x1="541.1" y1="1107.6" x2="629.2" y2="1107.6"/>
<line x1="541.1" y1="1150.5" x2="629.2" y2="1150.5"/>
<line x1="601.5" y1="1064.2" x2="601.5" y2="1193.1"/>
<line x1="570.1" y1="1071.2" x2="570.1" y2="1097.3" stroke-width="0.9"/>
<rect x="570.1" y="1071.4" width="31.4" height="4.8" fill="#d8d8d8" stroke="#999" stroke-width="0.6"/>
<circle cx="586.5" cy="1073.8" r="3.7" fill="#fff" stroke-width="0.9"/>
<circle cx="586.5" cy="1073.8" r="1.5" stroke-width="0.9"/>
<rect x="570.1" y="1081.5" width="31.4" height="4.8" fill="#d8d8d8" stroke="#999" stroke-width="0.6"/>
<circle cx="586.5" cy="1083.9" r="3.7" fill="#fff" stroke-width="0.9"/>
<circle cx="586.5" cy="1083.9" r="1.5" stroke-width="0.9"/>
<rect x="570.1" y="1092.3" width="31.4" height="4.8" fill="#d8d8d8" stroke="#999" stroke-width="0.6"/>
<circle cx="586.5" cy="1094.7" r="3.7" fill="#fff" stroke-width="0.9"/>
<circle cx="586.5" cy="1094.7" r="1.5" stroke-width="0.9"/>
<line x1="570.1" y1="1114.6" x2="570.1" y2="1140.7" stroke-width="0.9"/>
<rect x="570.1" y="1114.8" width="31.4" height="4.8" fill="#d8d8d8" stroke="#999" stroke-width="0.6"/>
<circle cx="586.5" cy="1117.2" r="3.7" fill="#fff" stroke-width="0.9"/>
<circle cx="586.5" cy="1117.2" r="1.5" stroke-width="0.9"/>
<rect x="570.1" y="1125.4" width="31.4" height="4.8" fill="#d8d8d8" stroke="#999" stroke-width="0.6"/>
<circle cx="586.5" cy="1127.8" r="3.7" fill="#fff" stroke-width="0.9"/>
<circle cx="586.5" cy="1127.8" r="1.5" stroke-width="0.9"/>
<rect x="570.1" y="1135.7" width="31.4" height="4.8" fill="#d8d8d8" stroke="#999" stroke-width="0.6"/>
<circle cx="586.5" cy="1138.1" r="3.7" fill="#fff" stroke-width="0.9"/>
<circle cx="586.5" cy="1138.1" r="1.5" stroke-width="0.9"/>
<line x1="570.1" y1="1157.5" x2="570.1" y2="1183.4" stroke-width="0.9"/>
<rect x="570.1" y="1157.7" width="31.4" height="4.8" fill="#d8d8d8" stroke="#999" stroke-width="0.6"/>
<circle cx="586.5" cy="1160.1" r="3.7" fill="#fff" stroke-width="0.9"/>
<circle cx="586.5" cy="1160.1" r="1.5" stroke-width="0.9"/>
<rect x="570.1" y="1167.8" width="31.4" height="4.8" fill="#d8d8d8" stroke="#999" stroke-width="0.6"/>
<circle cx="586.5" cy="1170.2" r="3.7" fill="#fff" stroke-width="0.9"/>
<circle cx="586.5" cy="1170.2" r="1.5" stroke-width="0.9"/>
<rect x="570.1" y="1178.4" width="31.4" height="4.8" fill="#d8d8d8" stroke="#999" stroke-width="0.6"/>
<circle cx="586.5" cy="1180.8" r="3.7" fill="#fff" stroke-width="0.9"/>
<circle cx="586.5" cy="1180.8" r="1.5" stroke-width="0.9"/>
<ellipse cx="628.2" cy="1110.1" rx="6.4" ry="2.7" fill="#f0f0f0" stroke="#808080" stroke-width="1"/>
<ellipse cx="628.2" cy="1129.1" rx="6.4" ry="2.7" fill="#f0f0f0" stroke="#808080" stroke-width="1"/>
<ellipse cx="628.2" cy="1146.7" rx="6.4" ry="2.7" fill="#f0f0f0" stroke="#808080" stroke-width="1"/>
<rect x="668.7" y="1088.7" width="111.1" height="81.3"/>
<rect x="700.1" y="1080.6" width="51.5" height="89.4"/>
<path d="M700.1 1170V1176.5Q700.1 1177.5 702 1177.5Q705 1177.5 705 1179.5V1188.5H695.2V1206.1H757.2V1188.5H746.5V1179.5Q746.5 1177.5 749.5 1177.5Q751.6 1177.5 751.6 1176.5V1170"/>
<rect x="708.0" y="1177.5" width="34.9" height="11.0"/>
<line x1="706.6" y1="1102.3" x2="706.6" y2="1152.7" stroke-width="0.7"/>
<circle cx="706.6" cy="1109.3" r="3.4"/>
<line x1="701.6" y1="1109.3" x2="711.6" y2="1109.3" stroke-width="0.7"/>
<circle cx="706.6" cy="1125.6" r="3.4"/>
<line x1="701.6" y1="1125.6" x2="711.6" y2="1125.6" stroke-width="0.7"/>
<circle cx="706.6" cy="1142.4" r="3.4"/>
<line x1="701.6" y1="1142.4" x2="711.6" y2="1142.4" stroke-width="0.7"/>
<line x1="740.0" y1="1102.3" x2="740.0" y2="1152.7" stroke-width="0.7"/>
<circle cx="740.0" cy="1114.7" r="3.4"/>
<line x1="735.0" y1="1114.7" x2="745.0" y2="1114.7" stroke-width="0.7"/>
<circle cx="740.0" cy="1128.3" r="3.4"/>
<line x1="735.0" y1="1128.3" x2="745.0" y2="1128.3" stroke-width="0.7"/>
<circle cx="740.0" cy="1142.4" r="3.4"/>
<line x1="735.0" y1="1142.4" x2="745.0" y2="1142.4" stroke-width="0.7"/>
<line x1="634.5" y1="1110.1" x2="703.0" y2="1109.3"/>
<line x1="634.5" y1="1129.1" x2="703.0" y2="1125.6"/>
<line x1="634.5" y1="1146.7" x2="703.0" y2="1142.4"/>
<line x1="743.5" y1="1114.7" x2="815.0" y2="1112.7"/>
<line x1="743.5" y1="1128.3" x2="815.0" y2="1120.9"/>
<line x1="743.5" y1="1142.4" x2="815.0" y2="1129.3"/>
<ellipse cx="819.3" cy="1112.7" rx="4.8" ry="2.1" stroke="#999"/>
<ellipse cx="819.3" cy="1120.9" rx="4.8" ry="2.1" stroke="#999"/>
<ellipse cx="819.3" cy="1129.3" rx="4.8" ry="2.1" stroke="#999"/>
<line x1="818.0" y1="1108.4" x2="838.1" y2="1108.4" stroke-width="1.3"/>
<line x1="818.0" y1="1133.3" x2="838.1" y2="1133.3" stroke-width="1.3"/>
<rect x="838.1" y="1083.1" width="35.7" height="25.3"/>
<rect x="873.8" y="1084.6" width="2.8" height="22.3"/>
<rect x="838.1" y="1108.4" width="35.7" height="24.9"/>
<rect x="873.8" y="1109.9" width="2.8" height="21.9"/>
<rect x="838.1" y="1133.3" width="35.7" height="24.9"/>
<rect x="873.8" y="1134.8" width="2.8" height="21.9"/>
<rect x="838.1" y="1158.2" width="35.7" height="24.8"/>
<rect x="873.8" y="1159.7" width="2.8" height="21.8"/>
<rect x="838.1" y="1183.0" width="35.7" height="24.6"/>
<rect x="873.8" y="1184.5" width="2.8" height="21.6"/>
<rect x="838.1" y="1207.6" width="35.7" height="25.2"/>
<rect x="873.8" y="1209.1" width="2.8" height="22.2"/>
<rect x="838.1" y="1232.8" width="35.7" height="22.9"/>
<rect x="873.8" y="1234.3" width="2.8" height="19.9"/>
<g transform="translate(901.6 1070.3) rotate(45)"><rect x="-7.5" y="-4.5" width="15" height="9"/><text x="0" y="3" font-size="6.5" text-anchor="middle" font-family="Liberation Serif,serif" fill="#333" stroke="none">空调</text></g>
<rect x="499.1" y="1231.0" width="124.7" height="16.3"/>
<line x1="524.0" y1="1231.0" x2="524.0" y2="1247.3"/>
<line x1="548.4" y1="1231.0" x2="548.4" y2="1247.3"/>
<line x1="572.8" y1="1231.0" x2="572.8" y2="1247.3"/>
<line x1="597.5" y1="1231.0" x2="597.5" y2="1247.3"/>
<text x="448.9" y="1036.9" font-size="16" text-anchor="middle">10</text>
<path d="M441.4 1045.8H455.2L483.0 1084.4" stroke="#8a8a8a" stroke-width="1"/>
<text x="484.3" y="1036.9" font-size="16" text-anchor="middle">11</text>
<path d="M475.4 1045.8H490.0L503.5 1064.5" stroke="#8a8a8a" stroke-width="1"/>
<text x="780.6" y="1036.8" font-size="16" text-anchor="middle">12</text>
<path d="M775.2 1041.3H789.5L824.0 1112.0" stroke="#8a8a8a" stroke-width="1"/>
<text x="825.3" y="1036.8" font-size="16" text-anchor="middle">13</text>
<path d="M819.9 1041.3H833.4L861.9 1092.2" stroke="#8a8a8a" stroke-width="1"/>
<text x="449.0" y="1299.6" font-size="16" text-anchor="middle">15</text>
<path d="M442.2 1305.8H457.1L524.3 1244.0" stroke="#8a8a8a" stroke-width="1"/>
<text x="969.5" y="1299.6" font-size="16" text-anchor="middle">14</text>
<path d="M978.6 1306.3H962.4L912.2 1254.3" stroke="#8a8a8a" stroke-width="1"/>
<line x1="472.8" y1="1277.9" x2="472.8" y2="1340.2"/>
<line x1="912.2" y1="1275.7" x2="912.2" y2="1340.2"/>
<line x1="472.8" y1="1307.7" x2="817.9" y2="1307.7"/>
<line x1="472.8" y1="1334.3" x2="912.2" y2="1334.3"/>
<path d="M473.5 1307.7L482.5 1305.2L481.5 1307.7L482.5 1310.2Z" fill="#111" stroke="none"/>
<path d="M628.5 1307.7L619.5 1305.2L620.5 1307.7L619.5 1310.2Z" fill="#111" stroke="none"/>
<path d="M629.9 1307.7L638.9 1305.2L637.9 1307.7L638.9 1310.2Z" fill="#111" stroke="none"/>
<path d="M817.2 1307.7L808.2 1305.2L809.2 1307.7L808.2 1310.2Z" fill="#111" stroke="none"/>
<path d="M473.5 1334.3L482.5 1331.8L481.5 1334.3L482.5 1336.8Z" fill="#111" stroke="none"/>
<path d="M911.5 1334.3L902.5 1331.8L903.5 1334.3L902.5 1336.8Z" fill="#111" stroke="none"/>
<text x="554.6" y="1303.2" font-size="16" text-anchor="middle">4000 ~ 5000</text>
<text x="724.0" y="1303.2" font-size="16" text-anchor="middle">600 ~ 8000</text>
<text x="693.0" y="1329.7" font-size="16" text-anchor="middle">13100 ~ 15100</text>
</svg>
</body></html>
